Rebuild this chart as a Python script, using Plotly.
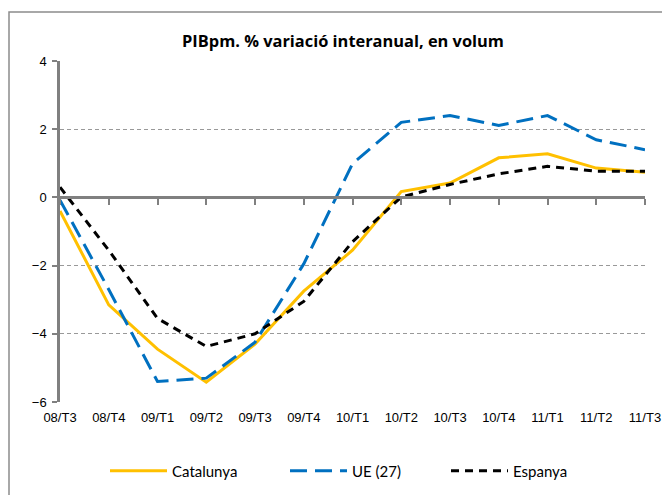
import plotly.graph_objects as go

quarters = ["08/T3", "08/T4", "09/T1", "09/T2", "09/T3", "09/T4", "10/T1",
            "10/T2", "10/T3", "10/T4", "11/T1", "11/T2", "11/T3"]
catalunya = [-0.4, -3.15, -4.45, -5.42, -4.3, -2.75, -1.55, 0.17, 0.42, 1.16, 1.28, 0.86, 0.74]
ue27 = [-0.08, -2.7, -5.4, -5.3, -4.25, -1.95, 0.99, 2.2, 2.4, 2.11, 2.4, 1.69, 1.4]
espanya = [0.3, -1.55, -3.55, -4.37, -4.0, -3.05, -1.3, 0.01, 0.38, 0.69, 0.91, 0.77, 0.77]

xi = list(range(len(quarters)))

# page body has an 8px margin: figure coordinates are offset by -8 from the screen
L, T, PW, PH = 52, 53, 585, 341
W, H = 670, 495

fig = go.Figure()
fig.add_trace(go.Scatter(x=xi, y=catalunya, name="Catalunya", mode="lines",
                         line=dict(color="#FFC000", width=3), legend="legend"))
fig.add_trace(go.Scatter(x=xi, y=ue27, name="UE (27)", mode="lines",
                         line=dict(color="#0070C0", width=3, dash="17px,8px"),
                         legend="legend2"))
fig.add_trace(go.Scatter(x=xi, y=espanya, name="Espanya", mode="lines",
                         line=dict(color="#000000", width=3, dash="8px,6px"),
                         legend="legend3"))
# invisible trace on the zero-line axis to carry its ticks
fig.add_trace(go.Scatter(x=xi, y=[0] * len(xi), xaxis="x2", mode="lines",
                         line=dict(width=0), showlegend=False, hoverinfo="skip"))

leg_y = -(463 - (T + PH)) / PH
leg_font = dict(family="Lato, Open Sans, sans-serif", size=15, color="#000")


def leg(screen_line_start):
    return dict(orientation="h", x=(screen_line_start - 8 - 7 - L) / PW,
                xanchor="left", y=leg_y, yanchor="middle", font=leg_font,
                itemwidth=57, bgcolor="rgba(0,0,0,0)")


fig.update_layout(
    width=W, height=H,
    margin=dict(l=L, r=W - L - PW, t=T, b=H - T - PH),
    paper_bgcolor="white", plot_bgcolor="white",
    title=dict(text="<b>PIBpm. % variació interanual, en volum</b>",
               x=(343 - 8 - L) / PW, xref="paper", xanchor="center",
               y=1 - 33 / H, yanchor="middle",
               font=dict(family="Open Sans, Lato, sans-serif", size=16.4, color="#000")),
    font=dict(family="Liberation Sans, Arial, sans-serif", size=13, color="#000"),
    xaxis=dict(range=[0, len(quarters) - 1], tickmode="array", tickvals=xi,
               ticktext=quarters, showgrid=False, zeroline=False, showline=False,
               ticks="", tickfont=dict(size=13), ticklabelstandoff=6),
    xaxis2=dict(range=[0, len(quarters) - 1], overlaying="x", anchor="free",
                position=0.6, tickmode="array", tickvals=xi, showticklabels=False,
                ticks="outside", ticklen=6, tickcolor="#808080", tickwidth=1.5,
                showline=True, linecolor="#808080", linewidth=2.5, showgrid=False,
                zeroline=False),
    yaxis=dict(range=[-6, 4], dtick=2, tickmode="linear", showgrid=True,
               gridcolor="#999999", griddash="4px,3px", gridwidth=1,
               zeroline=False, showline=True, linecolor="#808080", linewidth=2.5,
               ticks="outside", ticklen=5, tickcolor="#808080", tickwidth=1.5,
               tickfont=dict(size=13), ticklabelstandoff=3),
    legend=leg(112),
    legend2=leg(292),
    legend3=leg(453),
    showlegend=True,
)

fig.add_shape(type="rect", xref="paper", yref="paper",
              x0=(1 - L) / PW, x1=(690 - L) / PW,
              y0=(T + PH - 510) / PH, y1=(T + PH - 4) / PH,
              line=dict(color="#8c8c8c", width=1.5), fillcolor="rgba(0,0,0,0)",
              layer="below")

fig.write_html("out.html")
